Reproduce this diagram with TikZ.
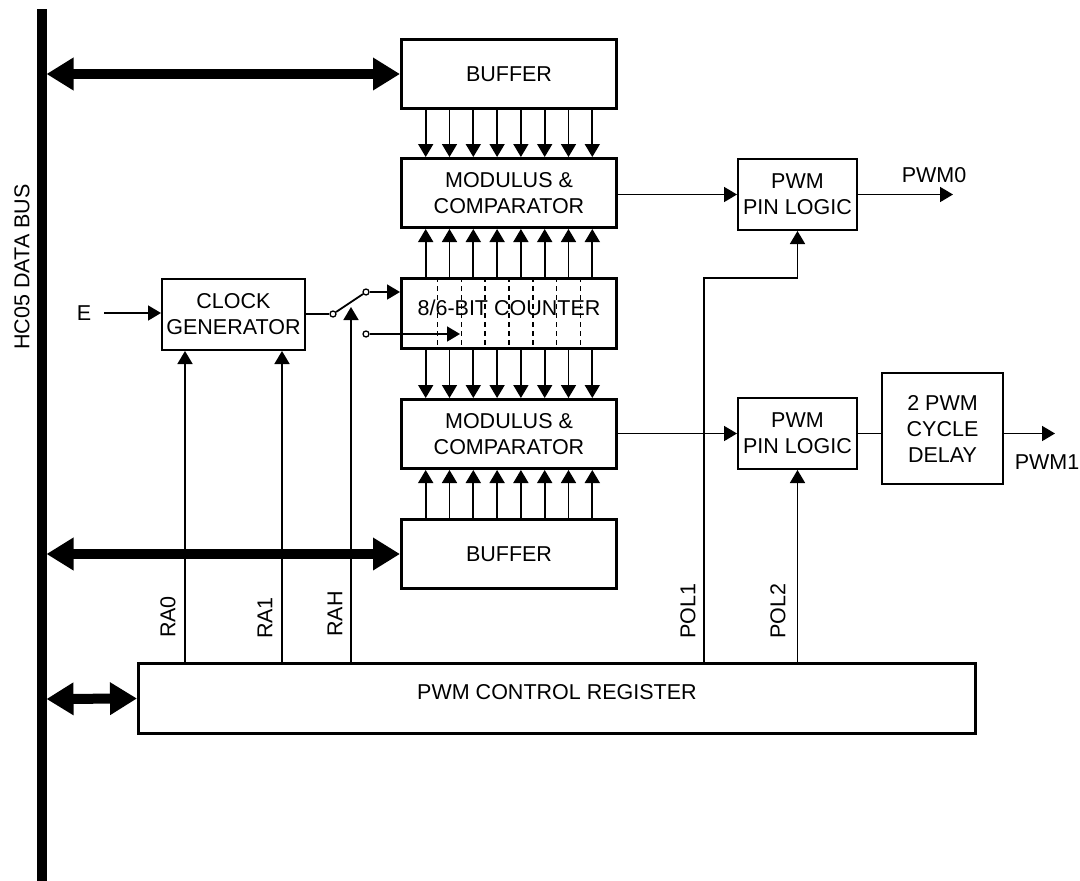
\documentclass[tikz,border=0pt]{standalone}
\usepackage{fontspec}
\setmainfont{Liberation Sans}
\usetikzlibrary{arrows.meta,calc}
\begin{document}
\begin{tikzpicture}[x=1pt,y=-1pt,
  every node/.style={font=\fontsize{21.5}{26}\selectfont, align=center},
  thickbox/.style={draw, line width=3pt, inner sep=0pt},
  thinbox/.style={draw, line width=2pt, inner sep=0pt},
  arr/.style={line width=1.8pt, -{Triangle[length=13pt,width=15pt]}},
  wire/.style={line width=1.8pt},
  busarr/.style={line width=10pt, {Triangle[length=27pt,width=31pt]}-{Triangle[length=27pt,width=31pt]}},
  circ/.style={draw, circle, line width=1.3pt, minimum size=6pt, inner sep=0pt, fill=white},
  lbl/.style={inner sep=0pt}
]
\useasboundingbox (0,0) rectangle (1080,881);
% data bus
\draw[line width=10pt] (41.5,9) -- (41.5,881);
\node[lbl, rotate=90] (buslbl) at (22,267) {HC05 DATA BUS};

% central column boxes
\node[thickbox, minimum width=215pt, minimum height=69pt] (buf1) at (509,74) {BUFFER};
\node[thickbox, minimum width=215pt, minimum height=69pt] (mod1) at (509,193) {MODULUS \&\\COMPARATOR};
\node[thickbox, minimum width=215pt, minimum height=70pt] (cnt) at (509,313.5) {};
\node[thickbox, minimum width=215pt, minimum height=69pt] (mod2) at (509,434) {MODULUS \&\\COMPARATOR};
\node[thickbox, minimum width=215pt, minimum height=69pt] (buf2) at (509,554) {BUFFER};

% counter dashed separators and text
\foreach \i in {0,...,6} {
  \draw[line width=1.6pt, dash pattern=on 5pt off 4pt] ([xshift={23.8*(\i-3)}]cnt.north) -- ([xshift={23.8*(\i-3)}]cnt.south);
}
\node[lbl] (cnttext) at (509,308) {8/6-BIT COUNTER};

% bit arrows
\foreach \i in {0,...,7} {
  \draw[arr] ([xshift={23.8*(\i-3.5)}]buf1.south) -- ([xshift={23.8*(\i-3.5)}]mod1.north);
  \draw[arr] ([xshift={23.8*(\i-3.5)}]cnt.north) -- ([xshift={23.8*(\i-3.5)}]mod1.south);
  \draw[arr] ([xshift={23.8*(\i-3.5)}]cnt.south) -- ([xshift={23.8*(\i-3.5)}]mod2.north);
  \draw[arr] ([xshift={23.8*(\i-3.5)}]buf2.north) -- ([xshift={23.8*(\i-3.5)}]mod2.south);
}

% other boxes
\node[thinbox, minimum width=143pt, minimum height=71pt] (clk) at (233.5,314.5) {CLOCK\\GENERATOR};
\node[thinbox, minimum width=119pt, minimum height=71pt] (pin1) at (797.5,194.5) {PWM\\PIN LOGIC};
\node[thinbox, minimum width=119pt, minimum height=71pt] (pin2) at (797.5,433.5) {PWM\\PIN LOGIC};
\node[thinbox, minimum width=121pt, minimum height=111pt] (dly) at (942.5,428.5) {2 PWM\\CYCLE\\DELAY};
\node[thickbox, minimum width=837pt, minimum height=70pt] (reg) at (557,698.5) {};
\node[lbl] (regtext) at (557,692) {PWM CONTROL REGISTER};

% bus arrows
\draw[busarr] (46.5,74) -- (buf1.west);
\draw[busarr] (46.5,554) -- (buf2.west);
\draw[busarr] (46.5,699) -- (reg.west);

% E input
\node[lbl] (e) at (84,313) {E};
\coordinate (ein) at (104,313);
\draw[arr] (ein) -- (clk.west |- ein);

% clock select lines
\coordinate (ra0) at ([xshift=-48.5pt]clk.south);
\coordinate (ra1) at ([xshift=48.5pt]clk.south);
\draw[arr] (ra0 |- reg.north) -- (ra0);
\draw[arr] (ra1 |- reg.north) -- (ra1);
\coordinate (rah) at (351,307);
\draw[arr] (rah |- reg.north) -- (rah);
\node[lbl, rotate=90] (ra0l) at (168,617) {RA0};
\node[lbl, rotate=90] (ra1l) at (265,618) {RA1};
\node[lbl, rotate=90] (rahl) at (335,614) {RAH};

% switch
\node[circ] (c0) at (333,314) {};
\node[circ] (c1) at (366,292) {};
\node[circ] (c2) at (366,334) {};
\draw[wire] (clk.east |- c0) -- (c0);
\draw[wire] (c0) -- (c1);
\draw[arr] (c1) -- (cnt.west |- c1);
\coordinate (c2end) at (460,334);
\draw[arr] (c2) -- (c2end);

% outputs
\draw[arr] (mod1.east |- pin1.west) -- (pin1.west);
\draw[arr] (mod2.east |- pin2.west) -- (pin2.west);
\coordinate (pwm0end) at (953,194.5);
\draw[arr] (pin1.east) -- (pwm0end);
\node[lbl] (pwm0) at (934,175) {PWM0};
\draw[wire] (pin2.east) -- (pin2.east -| dly.west);
\coordinate (pwm1end) at (1055,433.5);
\draw[arr] (pin2.east -| dly.east) -- (pwm1end);
\node[lbl] (pwm1) at (1047,462) {PWM1};

% polarity lines
\coordinate (p1) at (704,278);
\draw[arr] (p1 |- reg.north) -- (p1) -| (pin1.south);
\draw[arr] (pin2.south |- reg.north) -- (pin2.south);
\node[lbl, rotate=90] (pol1l) at (688,611) {POL1};
\node[lbl, rotate=90] (pol2l) at (778,611) {POL2};
\end{tikzpicture}
\end{document}
